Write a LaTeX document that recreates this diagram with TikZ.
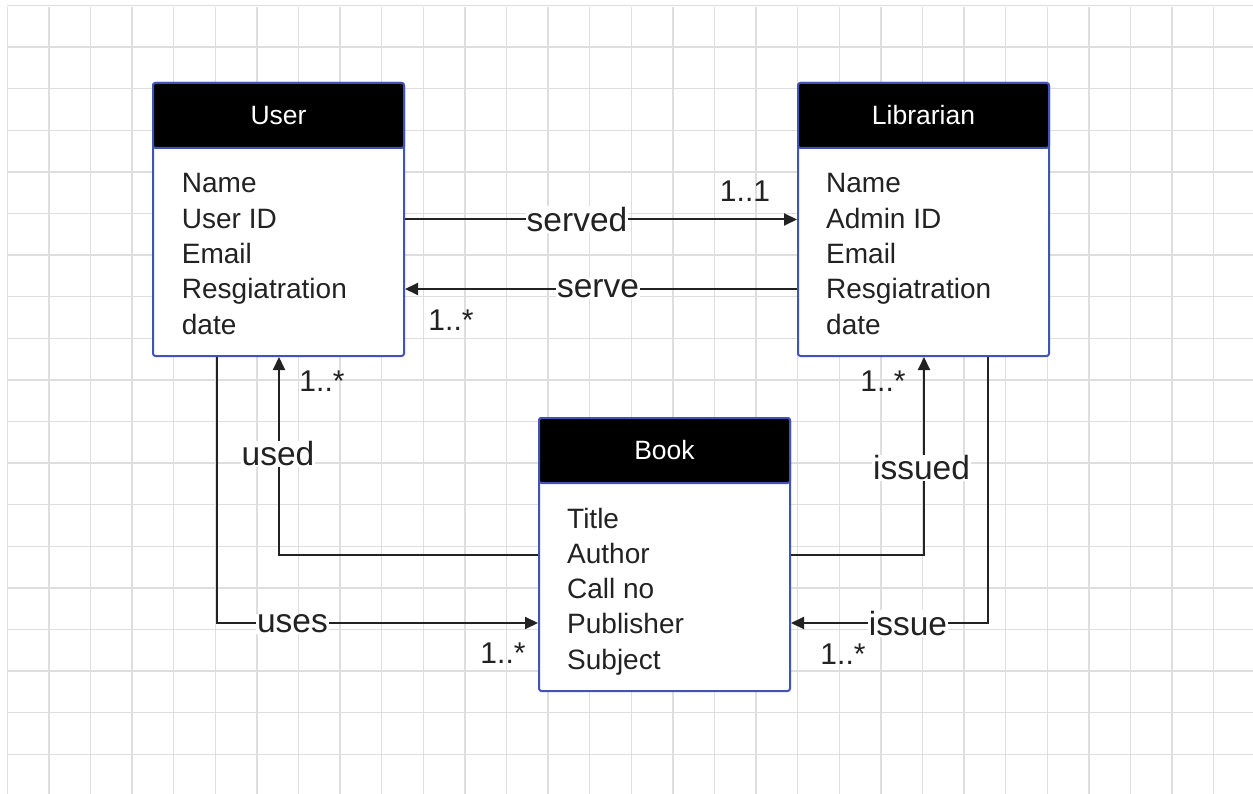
\documentclass[tikz,border=0pt]{standalone}
\usepackage{fontspec}
\setmainfont{Liberation Sans}
\usetikzlibrary{arrows.meta,calc}
\definecolor{boxblue}{RGB}{66,82,184}
\definecolor{gridgray}{RGB}{222,222,222}
\definecolor{ink}{RGB}{34,34,34}
\tikzset{
  gridline/.style={draw=gridgray,line width=1.4pt},
  classbox/.style={draw=boxblue,line width=2pt,fill=white,rounded corners=2.5pt,inner sep=0pt,minimum width=251pt,minimum height=273pt},
  header/.style={draw=boxblue,line width=2pt,fill=black,rounded corners=2.5pt,inner sep=0pt,minimum width=251pt,minimum height=65pt,text=white,font=\fontsize{26.5}{30}\selectfont},
  attr/.style={anchor=base west,inner sep=0pt,text=ink,font=\fontsize{28}{33}\selectfont},
  conn/.style={draw=ink,line width=2pt,-{Triangle[length=13pt,width=12pt]}},
  lbl/.style={fill=white,inner sep=1pt,text=ink,font=\fontsize{33.5}{40}\selectfont},
  mult/.style={inner sep=0pt,text=ink,font=\fontsize{30}{36}\selectfont}
}
\begin{document}
\begin{tikzpicture}[x=1pt,y=-1pt]
\useasboundingbox[fill=white] (0,0) rectangle (1253,794);
% grid
\foreach \i in {0,...,29} \draw[gridline] ({7.3+41.6*\i},7) -- ({7.3+41.6*\i},794);
\foreach \j in {0,...,18} \draw[gridline] (7.3,{5.5+41.6*\j}) -- (1253,{5.5+41.6*\j});

% User
\node[classbox] (user) at (278.5,219.5) {};
\node[header,anchor=north] (userh) at (user.north) {User};
\node[attr] (u1) at (181.7,193) {Name};
\node[attr] (u2) at (181.7,228.3) {User ID};
\node[attr] (u3) at (181.7,263.6) {Email};
\node[attr] (u4) at (181.7,298.9) {Resgiatration};
\node[attr] (u5) at (181.7,334.2) {date};

% Librarian
\node[classbox] (lib) at (923.5,219.5) {};
\node[header,anchor=north] (libh) at (lib.north) {Librarian};
\node[attr] (l1) at (826,193) {Name};
\node[attr] (l2) at (826,228.3) {Admin ID};
\node[attr] (l3) at (826,263.6) {Email};
\node[attr] (l4) at (826,298.9) {Resgiatration};
\node[attr] (l5) at (826,334.2) {date};

% Book
\node[classbox] (book) at (664.5,554.5) {};
\node[header,anchor=north] (bookh) at (book.north) {Book};
\node[attr] (b1) at (567,528) {Title};
\node[attr] (b2) at (567,563.3) {Author};
\node[attr] (b3) at (567,598.6) {Call no};
\node[attr] (b4) at (567,633.9) {Publisher};
\node[attr] (b5) at (567,669.2) {Subject};

% connectors
\draw[conn] (user.east) -- (lib.west);
\draw[conn] ([yshift=-69.5pt]lib.west) -- ([yshift=-69.5pt]user.east);
\draw[conn] (book.west) -| ([xshift=0.5pt]user.south);
\draw[conn] ([xshift=-62pt]user.south) |- ([yshift=-68.5pt]book.west);
\draw[conn] (book.east) -| ([xshift=0.5pt]lib.south);
\draw[conn] ([xshift=64.5pt]lib.south) |- ([yshift=-68.5pt]book.east);

% labels
\node[lbl] (lserved) at (577,219.5) {served};
\node[lbl] (lserve) at (598,288.5) {serve};
\node[lbl] (lused) at (278,454) {used};
\node[lbl] (luses) at (292.5,624) {uses};
\node[lbl] (lissued) at (921.5,468) {issued};
\node[lbl] (lissue) at (908,623.5) {issue};

% multiplicities
\node[mult] (m1) at (745,191.5) {1..1};
\node[mult] (m2) at (451,320) {1..*};
\node[mult] (m3) at (322,381) {1..*};
\node[mult] (m4) at (503,653) {1..*};
\node[mult] (m5) at (883,381) {1..*};
\node[mult] (m6) at (843,654) {1..*};
\end{tikzpicture}
\end{document}
